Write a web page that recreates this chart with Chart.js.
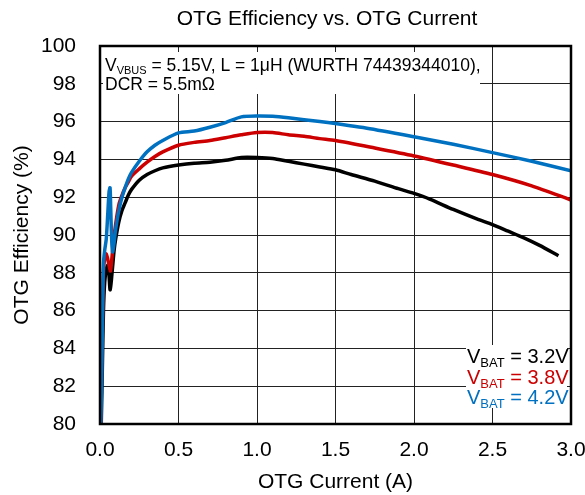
<!DOCTYPE html>
<html>
<head>
<meta charset="utf-8">
<script src="https://cdn.jsdelivr.net/npm/chart.js@4.4.1/dist/chart.umd.min.js"></script>
<style>
body{margin:0;background:#fff;}
</style>
</head>
<body>
<canvas id="ctx" width="585" height="495"></canvas>
<script>
// data (current in A, efficiency in %)
var cur32 = [0.008,0.015,0.022,0.03,0.04,0.05,0.058,0.064,0.07,0.08,0.09,0.1,0.12,0.14,0.16,0.18,0.2,0.25,0.3,0.35,0.4,0.5,0.6,0.7,0.8,0.9,1.0,1.1,1.2,1.3,1.4,1.5,1.6,1.75,1.9,2.0,2.1,2.25,2.4,2.5,2.6,2.7,2.8,2.92];
var eff32 = [80.0,83.0,86.0,87.5,88.2,88.4,87.8,87.1,87.4,88.3,89.2,89.8,90.7,91.3,91.7,92.1,92.4,92.9,93.2,93.4,93.55,93.7,93.8,93.85,93.95,94.1,94.1,94.05,93.9,93.75,93.6,93.45,93.2,92.85,92.45,92.2,91.9,91.35,90.85,90.55,90.2,89.85,89.45,88.9];

var cur38 = [0.005,0.01,0.016,0.022,0.03,0.04,0.05,0.06,0.067,0.075,0.085,0.1,0.12,0.14,0.16,0.18,0.2,0.25,0.3,0.35,0.4,0.5,0.6,0.7,0.8,0.9,1.0,1.1,1.2,1.3,1.4,1.5,1.75,2.0,2.25,2.5,2.75,3.0];
var eff38 = [80.0,82.5,85.5,88.0,88.8,89.0,88.7,88.3,88.1,88.7,89.6,90.6,91.6,92.1,92.5,92.8,93.1,93.5,93.85,94.15,94.4,94.75,94.9,95.0,95.15,95.3,95.42,95.42,95.3,95.22,95.1,95.0,94.6,94.18,93.7,93.2,92.6,91.85];

var cur42 = [0.005,0.01,0.015,0.022,0.03,0.04,0.05,0.058,0.064,0.068,0.074,0.08,0.09,0.1,0.12,0.14,0.16,0.18,0.2,0.25,0.3,0.35,0.4,0.5,0.6,0.7,0.8,0.9,1.0,1.1,1.2,1.4,1.7,2.0,2.25,2.5,2.75,3.0];
var eff42 = [80.0,82.0,85.0,88.5,89.2,89.8,91.2,92.3,92.5,91.5,89.8,89.1,89.6,90.3,91.3,92.0,92.5,92.95,93.3,93.9,94.4,94.75,95.0,95.4,95.5,95.7,95.95,96.25,96.3,96.28,96.2,96.0,95.65,95.2,94.8,94.36,93.9,93.4];

var xTicks = [0,0.5,1.0,1.5,2.0,2.5,3.0];
var yTicks = [80,82,84,86,88,90,92,94,96,98,100];

var FONT = '"Liberation Sans", Arial, sans-serif';
var RED = '#cc0000', BLUE = '#0070c0';

function pts(xs, ys){
  var out = [];
  for(var i=0;i<xs.length;i++){ out.push({x:xs[i], y:ys[i]}); }
  return out;
}

// boxes with the conditions text and the series key
var notes = {
  id:'notes',
  afterDraw:function(chart){
    var c = chart.ctx, a = chart.chartArea;
    c.save();
    // title
    c.fillStyle = '#000';
    c.font = '21px ' + FONT;
    c.textAlign = 'center';
    c.textBaseline = 'middle';
    c.fillText('OTG Efficiency vs. OTG Current', 327, 19);

    // top-left conditions box
    c.fillStyle = '#fff';
    c.fillRect(a.left+3, 52, 377, 42);
    c.fillStyle = '#000';
    c.textAlign = 'left';
    c.textBaseline = 'alphabetic';
    var x = a.left + 5;
    c.font = '17.5px ' + FONT;
    c.fillText('V', x, 71); x += c.measureText('V').width;
    c.font = '11px ' + FONT;
    c.fillText('VBUS', x, 74); x += c.measureText('VBUS').width;
    c.font = '17.5px ' + FONT;
    c.fillText(' = 5.15V, L = 1\u03bcH (WURTH 74439344010),', x, 71);
    c.fillText('DCR = 5.5m\u03a9', a.left+5, 90);

    // key box
    var lx = 467;
    c.fillStyle = '#fff';
    c.fillRect(lx-1, 345, 101, 63);
    var rows = [['3.2V','#000',363],['3.8V',RED,384],['4.2V',BLUE,404]];
    for(var i=0;i<rows.length;i++){
      var xx = lx;
      c.fillStyle = rows[i][1];
      c.font = '20px ' + FONT;
      c.fillText('V', xx, rows[i][2]); xx += c.measureText('V').width;
      c.font = '13px ' + FONT;
      c.fillText('BAT', xx, rows[i][2]+4); xx += c.measureText('BAT').width;
      c.font = '20px ' + FONT;
      c.fillText(' = ' + rows[i][0], xx, rows[i][2]);
    }

    // frame
    c.strokeStyle = '#000';
    c.lineWidth = 2.5;
    c.strokeRect(a.left, a.top, a.right-a.left, a.bottom-a.top);
    c.restore();
  }
};

var effChart = new Chart(document.getElementById('ctx'), {
  type:'scatter',
  data:{
    datasets:[
      {label:'VBAT = 4.2V', data:pts(cur42, eff42), borderColor:BLUE},
      {label:'VBAT = 3.8V', data:pts(cur38, eff38), borderColor:RED},
      {label:'VBAT = 3.2V', data:pts(cur32, eff32), borderColor:'#000'}
    ]
  },
  options:{
    responsive:false,
    animation:false,
    devicePixelRatio:1,
    layout:{padding:{top:46, right:14, left:0, bottom:0}},
    datasets:{scatter:{showLine:true, pointRadius:0, borderWidth:3.5, tension:0.25, fill:false}},
    plugins:{legend:{display:false}, tooltip:{enabled:false}},
    scales:{
      x:{
        type:'linear', min:0, max:3,
        afterBuildTicks:function(s){ s.ticks = xTicks.map(function(v){return {value:v};}); },
        afterFit:function(s){ s.height = 71; s.paddingLeft = 0; s.paddingRight = 0; },
        ticks:{color:'#000', font:{family:FONT, size:21}, padding:14,
               callback:function(v){ return Number(v).toFixed(1); }},
        grid:{color:'#222', lineWidth:1, drawTicks:false},
        border:{display:true, color:'#000', width:2},
        title:{display:true, text:'OTG Current (A)', color:'#000',
               font:{family:FONT, size:21}, padding:{top:0, bottom:0}}
      },
      y:{
        type:'linear', min:80, max:100,
        afterBuildTicks:function(s){ s.ticks = yTicks.map(function(v){return {value:v};}); },
        afterFit:function(s){ s.width = 100; s.paddingTop = 0; s.paddingBottom = 0; },
        ticks:{color:'#000', font:{family:FONT, size:21}, padding:24},
        grid:{color:'#222', lineWidth:1, drawTicks:false},
        border:{display:true, color:'#000', width:2},
        title:{display:true, text:'OTG Efficiency (%)', color:'#000',
               font:{family:FONT, size:21}, padding:{top:10, bottom:0}}
      }
    }
  },
  plugins:[notes]
});
</script>
</body>
</html>
